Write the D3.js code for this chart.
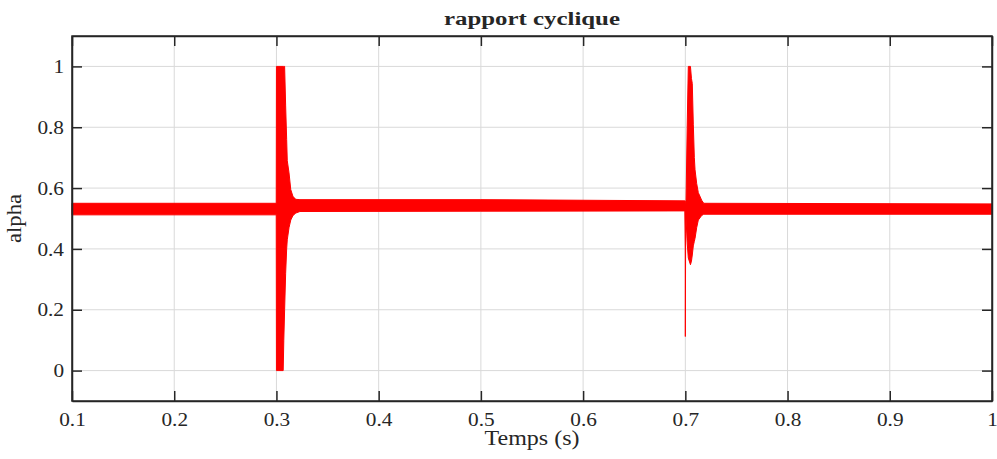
<!DOCTYPE html>
<html>
<head>
<meta charset="utf-8">
<script src="https://cdn.jsdelivr.net/npm/d3@7"></script>
<style>
  html, body { margin: 0; padding: 0; background: #fff; }
  svg { display: block; }
  text { font-family: "Liberation Serif", "Times New Roman", serif; fill: #262626; }
</style>
</head>
<body>
<svg id="chart" width="997" height="459"></svg>
<script>
// Duty cycle (rapport cyclique) of the converter: the switching ripple is
// drawn as a band between its upper and lower envelope.
const time  = [0.100, 0.2998, 0.3000, 0.3066, 0.3072, 0.3080, 0.3090, 0.3100, 0.3106, 0.3123, 0.3140, 0.3162, 0.3190, 0.3230, 0.500, 0.6995,
               0.6999, 0.7000, 0.7003, 0.7007, 0.7018, 0.7029, 0.7050, 0.7060, 0.7068, 0.7078, 0.7088, 0.7095, 0.7111, 0.7127, 0.7160, 0.7180, 1.000];
const upper = [0.550, 0.550, 1.000, 1.000, 1.000, 1.000, 0.870, 0.760, 0.690, 0.650, 0.595, 0.572, 0.563, 0.562, 0.562, 0.558,
               0.558, 0.548, 0.550, 0.560, 0.800, 1.000, 1.000, 0.960, 0.944, 0.810, 0.700, 0.660, 0.615, 0.585, 0.560, 0.550, 0.548];
const lower = [0.512, 0.512, 0.000, 0.000, 0.100, 0.200, 0.320, 0.400, 0.430, 0.470, 0.495, 0.510, 0.518, 0.523, 0.524, 0.525,
               0.400, 0.112, 0.450, 0.500, 0.420, 0.370, 0.348, 0.360, 0.380, 0.410, 0.425, 0.435, 0.470, 0.495, 0.510, 0.514, 0.514];

const xTicks = [0.1, 0.2, 0.3, 0.4, 0.5, 0.6, 0.7, 0.8, 0.9, 1];
const yTicks = [0, 0.2, 0.4, 0.6, 0.8, 1];

const titleText = "rapport cyclique";
const xLabelText = "Temps (s)";
const yLabelText = "alpha";

const svg = d3.select("#chart");
const plot = { left: 72, right: 992, top: 36, bottom: 401 };

const x = d3.scaleLinear().domain([0.1, 1]).range([plot.left, plot.right]);
const y = d3.scaleLinear().domain([-0.1, 1.1]).range([plot.bottom, plot.top]);

// widen a text element along its own writing direction
function stretch(sel, k) {
  sel.each(function () {
    const len = this.getComputedTextLength();
    d3.select(this).attr("textLength", len * k).attr("lengthAdjust", "spacingAndGlyphs");
  });
}

// grid
const grid = svg.append("g");
grid.selectAll("line.gx").data(xTicks).join("line")
  .attr("x1", d => x(d)).attr("x2", d => x(d))
  .attr("y1", plot.top).attr("y2", plot.bottom)
  .attr("stroke", "#d9d9d9").attr("stroke-width", 1);
grid.selectAll("line.gy").data(yTicks).join("line")
  .attr("x1", plot.left).attr("x2", plot.right)
  .attr("y1", d => y(d)).attr("y2", d => y(d))
  .attr("stroke", "#d9d9d9").attr("stroke-width", 1);

// signal band
const rows = time.map((t, i) => ({ t, hi: upper[i], lo: lower[i] }));
const band = d3.area()
  .x(d => x(d.t))
  .y0(d => y(d.lo))
  .y1(d => y(d.hi));
svg.append("path")
  .datum(rows)
  .attr("d", band)
  .attr("fill", "#ff0000")
  .attr("stroke", "#ff0000")
  .attr("stroke-width", 1)
  .attr("stroke-linejoin", "miter");

// axes (inward ticks on all four sides)
const fmt = d => String(d);
const axisStyle = g => {
  g.selectAll(".domain").attr("stroke", "#262626").attr("stroke-width", 1.5);
  g.selectAll(".tick line").attr("stroke", "#262626").attr("stroke-width", 1.5);
  g.selectAll(".tick text").attr("font-size", 19).attr("font-family", "Liberation Serif").attr("fill", "#262626");
};

const gx = svg.append("g").attr("transform", `translate(0,${plot.bottom})`)
  .call(d3.axisBottom(x).tickValues(xTicks).tickFormat(fmt).tickSize(-10).tickSizeOuter(0).tickPadding(12))
  .call(axisStyle);
gx.selectAll(".tick text").call(stretch, 1.12);

svg.append("g").attr("transform", `translate(0,${plot.top})`)
  .call(d3.axisTop(x).tickValues(xTicks).tickFormat("").tickSize(-10).tickSizeOuter(0))
  .call(axisStyle);

const gy = svg.append("g").attr("transform", `translate(${plot.left},0)`)
  .call(d3.axisLeft(y).tickValues(yTicks).tickFormat(fmt).tickSize(-10).tickSizeOuter(0).tickPadding(8))
  .call(axisStyle);
gy.selectAll(".tick text").call(stretch, 1.12);

svg.append("g").attr("transform", `translate(${plot.right},0)`)
  .call(d3.axisRight(y).tickValues(yTicks).tickFormat("").tickSize(-10).tickSizeOuter(0))
  .call(axisStyle);

// full frame
svg.append("rect")
  .attr("x", plot.left).attr("y", plot.top)
  .attr("width", plot.right - plot.left).attr("height", plot.bottom - plot.top)
  .attr("fill", "none").attr("stroke", "#262626").attr("stroke-width", 1.5);

// title and axis labels
svg.append("text")
  .attr("x", (plot.left + plot.right) / 2).attr("y", 25)
  .attr("text-anchor", "middle").attr("font-size", 18).attr("font-weight", "bold")
  .attr("fill", "#000")
  .text(titleText)
  .call(stretch, 1.38);

svg.append("text")
  .attr("x", (plot.left + plot.right) / 2).attr("y", 445)
  .attr("text-anchor", "middle").attr("font-size", 20)
  .text(xLabelText)
  .call(stretch, 1.2);

svg.append("text")
  .attr("transform", `translate(21,${(plot.top + plot.bottom) / 2}) rotate(-90)`)
  .attr("text-anchor", "middle").attr("font-size", 20)
  .text(yLabelText)
  .call(stretch, 1.13);
</script>
</body>
</html>
